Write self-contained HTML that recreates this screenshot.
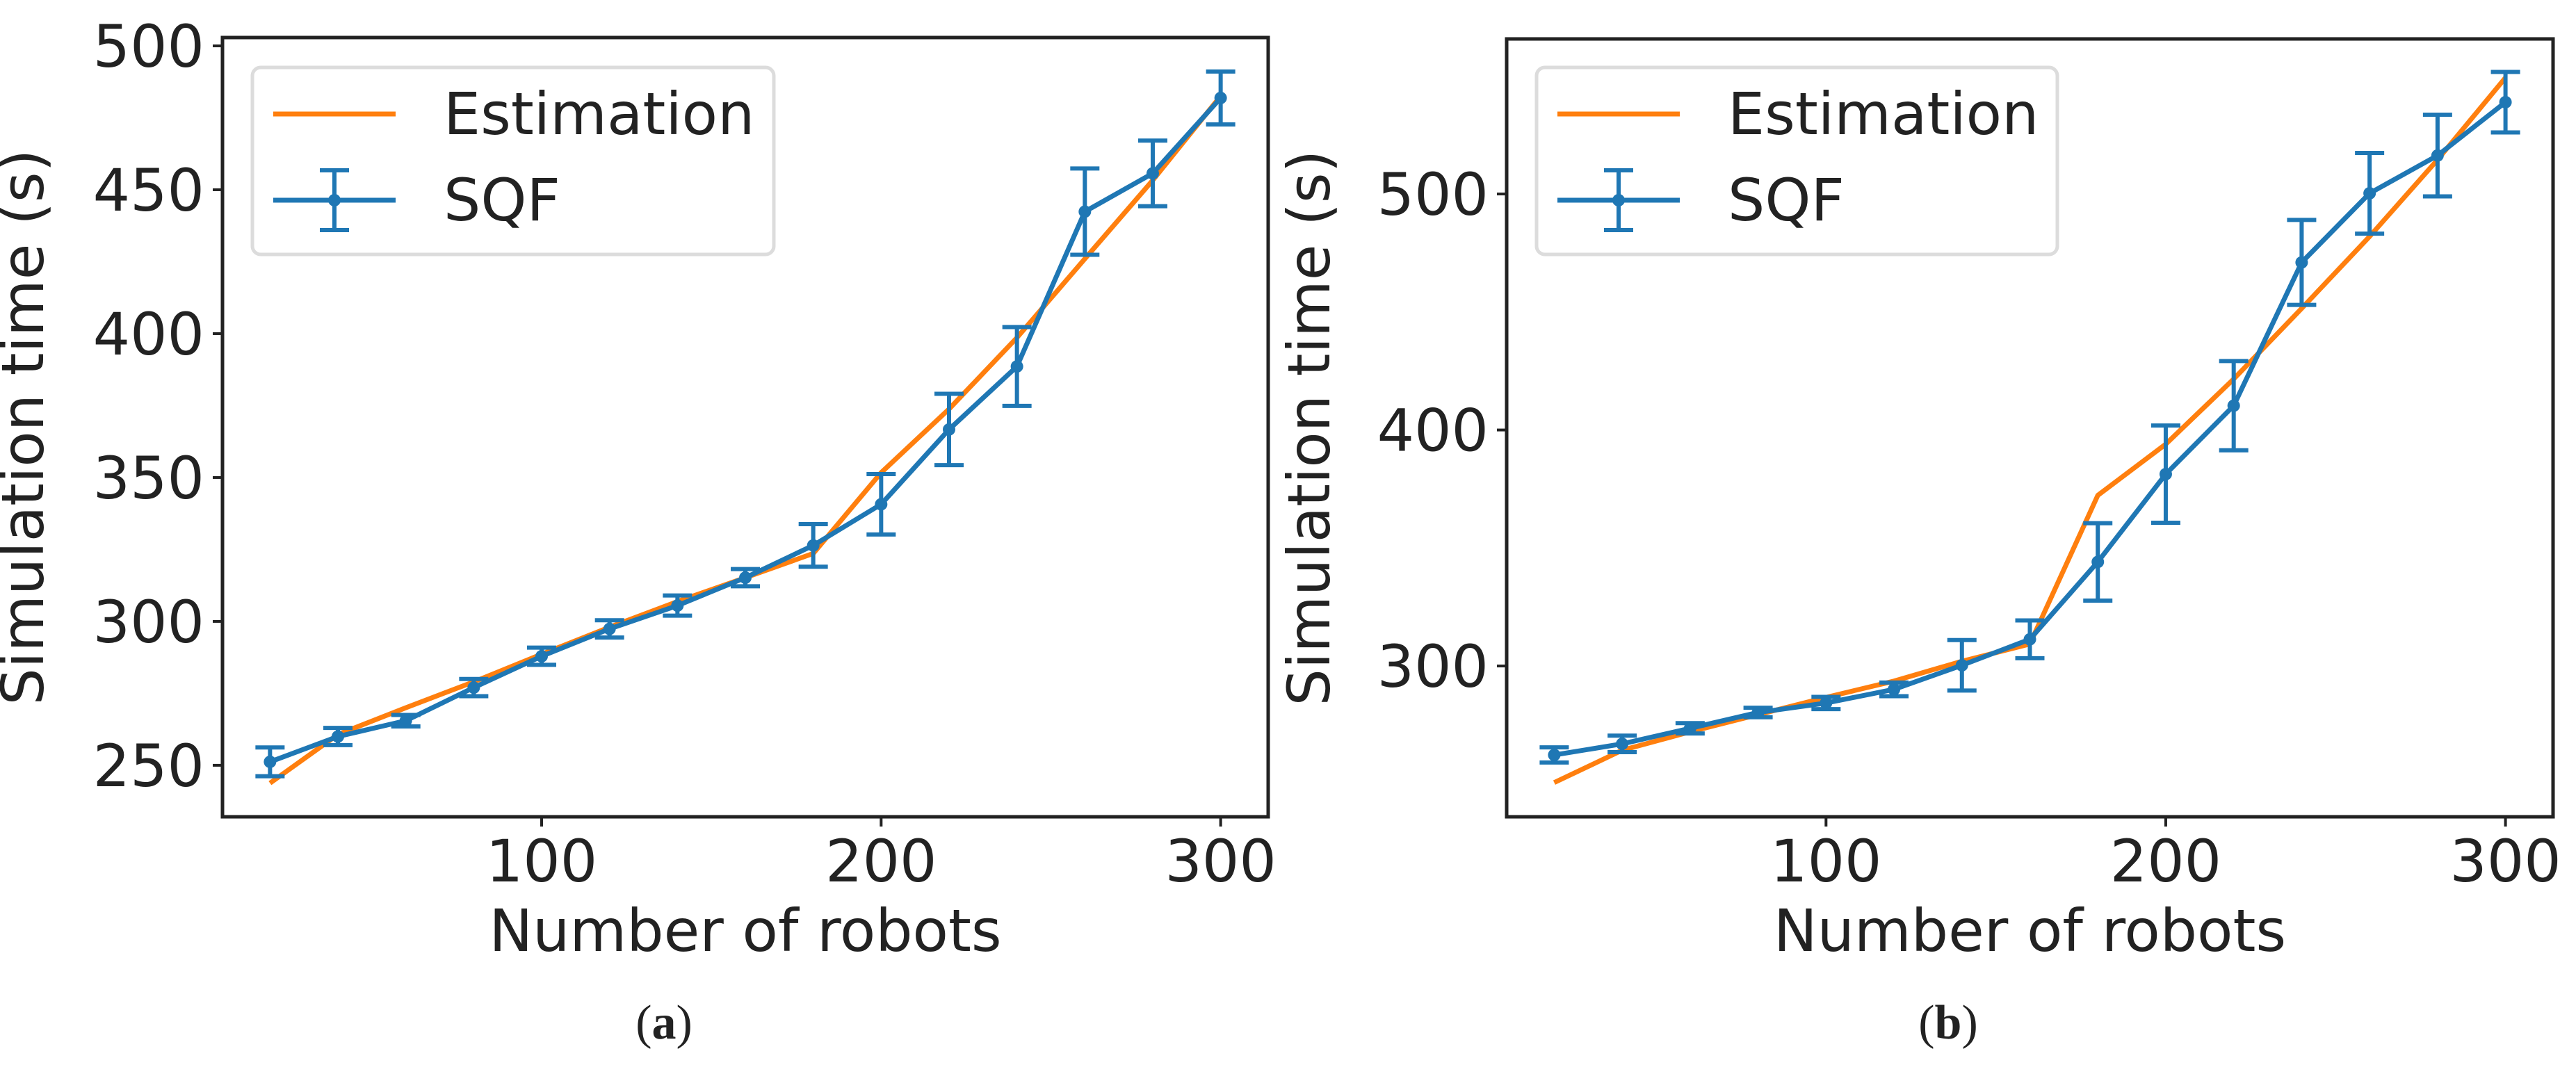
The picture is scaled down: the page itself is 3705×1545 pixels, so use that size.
<!DOCTYPE html>
<html><head><meta charset="utf-8"><style>
body{margin:0;background:#fff}
svg{display:block}
text{font-family:"DejaVu Sans","Liberation Sans",sans-serif;fill:#222}
</style></head><body>
<svg id="fig" width="3705" height="1545" viewBox="0 0 3705 1545" xmlns="http://www.w3.org/2000/svg"></svg>
<script>
const xCats = [20,40,60,80,100,120,140,160,180,200,220,240,260,280,300];
const xTicks = [100,200,300];
const sqfA = [251.2,260,265.5,277,287.9,297.4,305.5,315.2,326.4,340.7,366.7,388.6,442.4,455.7,481.9];
const errA = [5,3,2,3,3,3,3.5,3,7.4,10.5,12.4,13.7,15,11.4,9.2];
const estA = [243.8,260.7,270,279,288.6,298,306.9,315.2,323.6,351.7,373.8,398.6,426,453.3,482.6];
const yTicksA = [250,300,350,400,450,500];
const sqfB = [262.3,267,273.6,280.3,284.3,290.1,300.3,311.3,344.1,381.3,410.3,471,500.3,516.3,538.9];
const errB = [3.2,3.5,2.2,2,2.6,2.9,10.7,8,16.4,20.6,18.9,18,17.1,17.3,12.8];
const estB = [250.6,264.3,272.1,279.4,286.7,293.6,302,309.3,372.3,394,421.6,451.5,482,514.5,549.3];
const yTicksB = [300,400,500];

const NS="http://www.w3.org/2000/svg";
const svg=document.getElementById('fig');
function mk(tag,attrs,parent){const e=document.createElementNS(NS,tag);for(const k in attrs)e.setAttribute(k,attrs[k]);(parent||svg).appendChild(e);return e;}

function panel(id,box,xlim,ylim,sqf,err,est,yTicks,ylabX,capX,bold){
  const g=mk('g',{});
  
  
  const X=v=>box.l+(v-xlim[0])/(xlim[1]-xlim[0])*(box.r-box.l);
  const Y=v=>box.b-(v-ylim[0])/(ylim[1]-ylim[0])*(box.b-box.t);
  const est_pts=xCats.map((c,i)=>X(c)+','+Y(est[i])).join(' ');
  const el=mk('polyline',{points:est_pts,fill:'none',stroke:'#ff7f0e','stroke-width':7,'stroke-linejoin':'round'},g);
  
  
  xCats.forEach((c,i)=>{
    const x=X(c),y1=Y(sqf[i]-err[i]),y2=Y(sqf[i]+err[i]);
    const eb=mk('path',{d:`M${x},${y1}V${y2}M${x-21},${y1}H${x+21}M${x-21},${y2}H${x+21}`,stroke:'#1f77b4','stroke-width':6,fill:'none'},g);
    
    
  });
  const sl=mk('polyline',{points:xCats.map((c,i)=>X(c)+','+Y(sqf[i])).join(' '),fill:'none',stroke:'#1f77b4','stroke-width':7,'stroke-linejoin':'round'},g);
  
  
  xCats.forEach((c,i)=>{
    const p=mk('circle',{cx:X(c),cy:Y(sqf[i]),r:9,fill:'#1f77b4'},g);
    
    
  });
  const fr=mk('rect',{x:box.l,y:box.t,width:box.r-box.l,height:box.b-box.t,fill:'none',stroke:'#222','stroke-width':5},g);
  
  
  xTicks.forEach(v=>{
    const x=X(v);
    mk('line',{x1:x,x2:x,y1:box.b,y2:box.b+14,stroke:'#222','stroke-width':4},g);
    const t=mk('text',{x:x,y:1268,'text-anchor':'middle','font-size':84},g);
    t.textContent=v;
    
    
  });
  yTicks.forEach(v=>{
    const y=Y(v);
    mk('line',{x1:box.l-14,x2:box.l,y1:y,y2:y,stroke:'#222','stroke-width':4},g);
    const t=mk('text',{x:box.l-26,y:y+30,'text-anchor':'end','font-size':84},g);
    t.textContent=v;
    
    
  });
  const xl=mk('text',{x:(box.l+box.r)/2,y:1368,'text-anchor':'middle','font-size':84},g);
  xl.textContent='Number of robots';
  
  
  const cy=(box.t+box.b)/2;
  const yl=mk('text',{x:ylabX,y:cy,'text-anchor':'middle','font-size':84,transform:`rotate(-90 ${ylabX} ${cy})`},g);
  yl.textContent='Simulation time (s)';
  
  
  const lg=mk('g',{},g);
  
  
  const lx=box.l+43, lw=box.legW;
  mk('rect',{x:lx,y:97,width:lw,height:269,rx:12,fill:'#fff','fill-opacity':0.8,stroke:'#dcdcdc','stroke-width':5},lg);
  mk('line',{x1:lx+30,x2:lx+206,y1:164,y2:164,stroke:'#ff7f0e','stroke-width':7},lg);
  const t1=mk('text',{x:lx+275,y:193,'font-size':84},lg);
  t1.textContent='Estimation';
  
  
  mk('line',{x1:lx+30,x2:lx+206,y1:288,y2:288,stroke:'#1f77b4','stroke-width':7},lg);
  mk('path',{d:`M${lx+118},${245}V${331}M${lx+97},245H${lx+139}M${lx+97},331H${lx+139}`,stroke:'#1f77b4','stroke-width':6,fill:'none'},lg);
  mk('circle',{cx:lx+118,cy:288,r:9,fill:'#1f77b4'},lg);
  const t2=mk('text',{x:lx+275,y:317,'font-size':84},lg);
  t2.textContent='SQF';
  
  
  const cp=mk('text',{x:capX,y:1494,'text-anchor':'middle','font-size':70,style:'font-family:"Liberation Serif",serif'},g);
  cp.innerHTML= bold ? '(<tspan font-weight="bold">b</tspan>)' : '(<tspan font-weight="bold">a</tspan>)';
  
  
}
panel('panel-a',{l:320,r:1824,t:54,b:1175,legW:750},[6,314],[232.1,502.9],sqfA,errA,estA,yTicksA,62,955,false);
panel('panel-b',{l:2167,r:3672,t:56,b:1175,legW:749},[6,314],[236.1,565.7],sqfB,errB,estB,yTicksB,1912,2802,true);
</script>
</body></html>
